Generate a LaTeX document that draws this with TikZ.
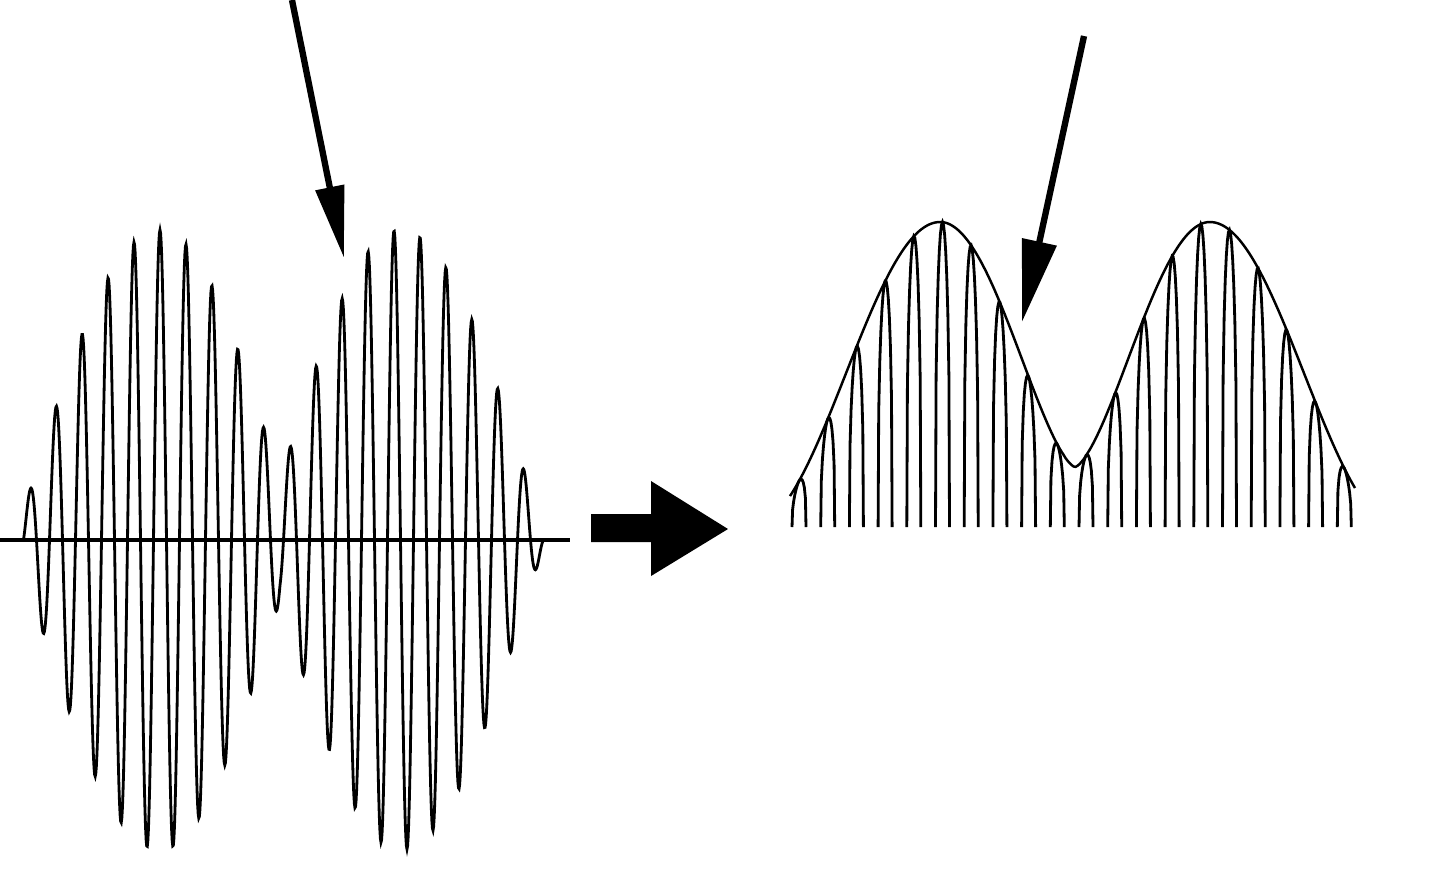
\documentclass[tikz,border=0pt]{standalone}
\usetikzlibrary{arrows.meta}
\begin{document}
\begin{tikzpicture}[x=0.01cm,y=-0.01cm,
  declare function={
    envL(\t)=(\t<160)?310*cos((\t-160)/145*90):((\t>400)?310*cos((\t-400)/145*90):60+250*abs(cos((\t-160)/240*180)));
    envR(\t)=(\t<940)?305*cos((\t-940)/189*90)*cos((\t-940)/189*90):((\t>1210)?305*cos((\t-1210)/189*90)*cos((\t-1210)/189*90):60+245*pow(abs(cos((\t-940)/270*180))+0.0001,1.5));
  },
  wave/.style={line width=0.8pt, line join=miter},
  envelope/.style={line width=0.7pt},
  axisline/.style={line width=1.2pt},
  pointerA/.style={line width=1.8pt, -{Triangle[length=0.72cm,width=0.28cm]}},
  pointerB/.style={line width=1.8pt, -{Triangle[length=0.82cm,width=0.34cm]}},
  blockarrow/.style={fill=black}]
\fill[white] (0,0) rectangle (1440,887);
\useasboundingbox (0,0) rectangle (1440,887);
% left: AM signal
\draw[axisline] (0,540) -- (570,540);
\draw[wave] plot[domain=23.5:543.5, samples=900]
  ({\x}, {540 - envL(\x)*cos((\x-160)/26*360)});
% block arrow
\fill[blockarrow] (591,514) -- (651,514) -- (651,481) -- (728,529) -- (651,576) -- (651,542) -- (591,542) -- cycle;
% right: rectified signal
\foreach \k in {0,...,19} {
  \pgfmathsetmacro\cc{799+28.7*\k}
  \pgfmathsetmacro\ca{\cc-7}
  \pgfmathsetmacro\cb{\cc+7}
  \pgfmathsetmacro\cl{\cc-6.4}
  \pgfmathsetmacro\cr{\cc+6.4}
  \draw[wave] (\ca,527) -- plot[domain=\cl:\cr, samples=13]
    ({\x}, {527 - envR(\x)*pow(cos((\x-\cc)/14*180),0.35)}) -- (\cb,527);
}
\draw[envelope] plot[domain=790:1355, samples=280]
  ({\x}, {527 - envR(\x)});
% pointers
\coordinate (p1s) at (292,0);
\coordinate (p1e) at (344,258);
\draw[pointerA] (p1s) -- (p1e);
\coordinate (p2s) at (1084,36);
\coordinate (p2e) at (1022,322);
\draw[pointerB] (p2s) -- (p2e);
\end{tikzpicture}
\end{document}
